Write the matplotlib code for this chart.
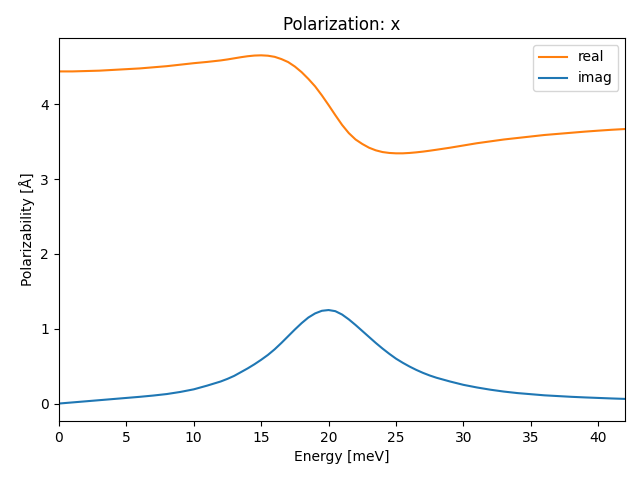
import matplotlib
matplotlib.use("Agg")
import matplotlib.pyplot as plt

# energies in meV (finer sampling around the resonance)
energy = [0, 1, 2, 3, 4, 5, 6, 7, 8, 9, 10, 11,
          12, 12.5, 13, 13.5, 14, 14.5, 15, 15.5, 16, 16.5, 17, 17.5,
          18, 18.5, 19, 19.5, 20, 20.5, 21, 21.5, 22, 22.5, 23, 23.5,
          24, 24.5, 25, 25.5, 26, 26.5, 27, 27.5, 28,
          29, 30, 31, 32, 33, 34, 35, 36, 37, 38, 39, 40, 41, 42]

alpha_real = [4.44, 4.44, 4.445, 4.45, 4.46, 4.47, 4.48, 4.495, 4.51, 4.53, 4.55, 4.567,
              4.587, 4.60, 4.615, 4.63, 4.643, 4.652, 4.655, 4.65, 4.635, 4.605, 4.565, 4.505,
              4.43, 4.34, 4.24, 4.12, 3.99, 3.855, 3.725, 3.615, 3.53, 3.47, 3.42, 3.385,
              3.362, 3.35, 3.345, 3.345, 3.35, 3.358, 3.368, 3.38, 3.393,
              3.42, 3.45, 3.48, 3.505, 3.53, 3.55, 3.57, 3.59, 3.605, 3.62, 3.635, 3.648, 3.66, 3.67]

alpha_imag = [0.0, 0.015, 0.03, 0.045, 0.06, 0.075, 0.09, 0.107, 0.127, 0.155, 0.19, 0.24,
              0.295, 0.33, 0.37, 0.42, 0.47, 0.525, 0.585, 0.65, 0.725, 0.81, 0.9, 0.99,
              1.075, 1.15, 1.205, 1.24, 1.25, 1.235, 1.19, 1.125, 1.05, 0.97, 0.89, 0.81,
              0.735, 0.665, 0.6, 0.545, 0.495, 0.45, 0.41, 0.375, 0.345,
              0.295, 0.25, 0.215, 0.185, 0.16, 0.14, 0.125, 0.11, 0.1, 0.09, 0.082, 0.075, 0.068, 0.062]

fig, ax = plt.subplots(figsize=(6.4, 4.8), dpi=100)

l_imag, = ax.plot(energy, alpha_imag, color='C0', label='imag')
l_real, = ax.plot(energy, alpha_real, color='C1', label='real')

ax.set_xlim(0, 42)
ax.set_xlabel('Energy [meV]')
ax.set_ylabel('Polarizability [Å]')
ax.set_title('Polarization: x')
ax.legend(handles=[l_real, l_imag], loc='upper right')

plt.subplots_adjust(left=0.092, right=0.977, top=0.921, bottom=0.123)
plt.savefig('out.png')
plt.close()
